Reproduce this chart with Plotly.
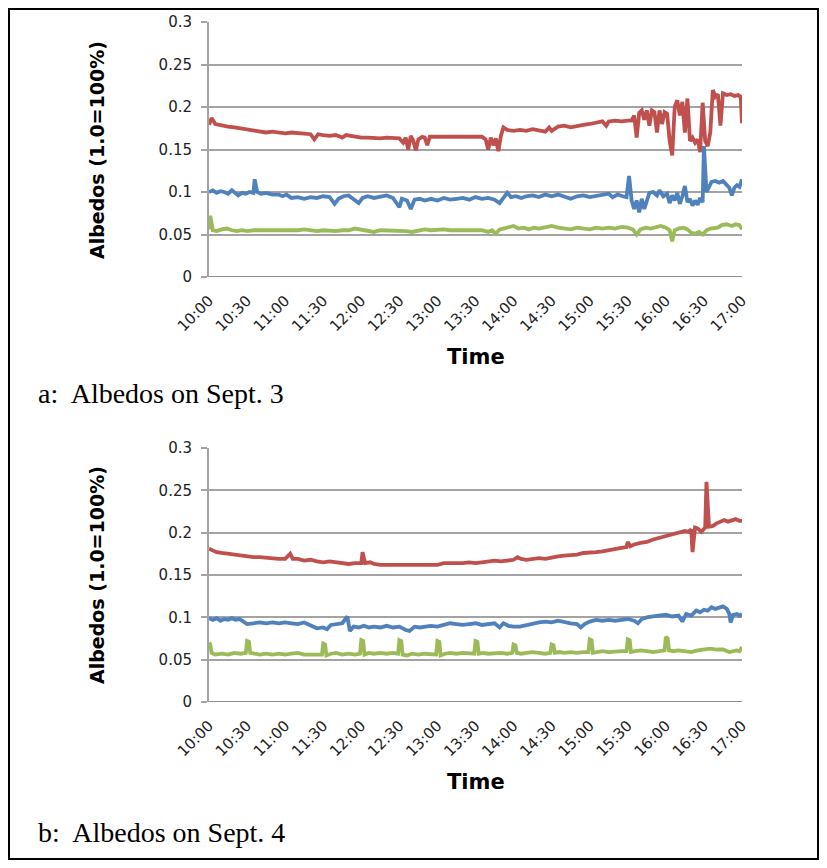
import plotly.graph_objects as go
from plotly.subplots import make_subplots

# ---------------- data ----------------
tick_vals = [600, 630, 660, 690, 720, 750, 780, 810, 840, 870, 900, 930, 960, 990, 1020]
tick_text = ["10:00", "10:30", "11:00", "11:30", "12:00", "12:30", "13:00", "13:30",
             "14:00", "14:30", "15:00", "15:30", "16:00", "16:30", "17:00"]
y_tick_vals = [0, 0.05, 0.1, 0.15, 0.2, 0.25, 0.3]
y_tick_text = ["0", "0.05", "0.1", "0.15", "0.2", "0.25", "0.3"]

# Sept. 3 (minutes since midnight)
red_a_t = [600, 602, 605, 610, 615, 620, 625, 630, 635, 640, 645, 650, 655, 660, 665, 670, 675, 680, 683, 686,
           690, 695, 700, 705, 708, 712, 716, 720, 725, 730, 735, 740, 745, 750, 753, 755, 757, 759, 761, 763,
           765, 768, 770, 772, 774, 778, 785, 790, 795, 800, 805, 810, 815, 818, 820, 822, 824, 826, 828, 830,
           832, 835, 840, 845, 850, 855, 860, 865, 868, 870, 875, 880, 885, 890, 895, 900, 905, 910, 913, 915,
           920, 925, 930, 933, 935, 937, 939, 941, 943, 945, 947, 949, 951, 953, 955, 957, 959, 961, 963, 965,
           967, 969, 971, 973, 975, 977, 979, 981, 983, 985, 987, 989, 991, 993, 995, 997, 999, 1001, 1003, 1005,
           1008, 1011, 1014, 1017, 1019, 1020]
red_a_v = [0.179, 0.187, 0.180, 0.178, 0.177, 0.176, 0.175, 0.174, 0.173, 0.172, 0.170, 0.171, 0.170, 0.169, 0.170, 0.169, 0.168, 0.168, 0.162, 0.168,
           0.167, 0.166, 0.167, 0.164, 0.167, 0.166, 0.165, 0.164, 0.164, 0.163, 0.163, 0.164, 0.163, 0.163, 0.158, 0.164, 0.150, 0.166, 0.160, 0.149,
           0.162, 0.165, 0.164, 0.155, 0.165, 0.165, 0.166, 0.165, 0.166, 0.165, 0.166, 0.166, 0.165, 0.162, 0.150, 0.164, 0.155, 0.163, 0.148, 0.166,
           0.176, 0.173, 0.172, 0.173, 0.172, 0.174, 0.172, 0.171, 0.176, 0.172, 0.177, 0.178, 0.176, 0.178, 0.179, 0.180, 0.181, 0.183, 0.178, 0.183,
           0.184, 0.183, 0.184, 0.184, 0.190, 0.164, 0.193, 0.196, 0.185, 0.196, 0.178, 0.196, 0.194, 0.170, 0.196, 0.180, 0.194, 0.192, 0.160, 0.143,
           0.200, 0.208, 0.190, 0.206, 0.170, 0.210, 0.160, 0.164, 0.158, 0.162, 0.147, 0.205, 0.160, 0.154, 0.170, 0.220, 0.212, 0.215, 0.178, 0.216,
           0.214, 0.215, 0.213, 0.214, 0.212, 0.181]

blue_a_t = [600, 603, 606, 609, 612, 615, 618, 620, 623, 626, 629, 632, 635, 636, 638, 641, 645, 650, 655, 658,
            661, 665, 670, 675, 680, 685, 690, 695, 699, 702, 706, 710, 714, 718, 721, 725, 730, 735, 740, 745,
            750, 752, 756, 759, 762, 766, 770, 775, 780, 785, 790, 795, 800, 805, 810, 815, 820, 825, 829, 832,
            835, 838, 842, 846, 850, 855, 860, 865, 870, 875, 880, 885, 890, 895, 900, 905, 910, 915, 918, 922,
            926, 929, 931, 933, 935, 937, 939, 941, 943, 945, 947, 950, 953, 955, 958, 961, 963, 965, 967, 969,
            971, 973, 975, 977, 979, 981, 983, 985, 987, 989, 990, 992, 994, 996, 999, 1002, 1005, 1008, 1010, 1012,
            1014, 1016, 1018, 1020]
blue_a_v = [0.100, 0.102, 0.099, 0.101, 0.100, 0.098, 0.102, 0.100, 0.096, 0.099, 0.098, 0.100, 0.099, 0.115, 0.100, 0.098, 0.099, 0.097, 0.097, 0.095,
            0.097, 0.093, 0.094, 0.092, 0.094, 0.093, 0.095, 0.094, 0.086, 0.092, 0.095, 0.096, 0.092, 0.087, 0.093, 0.095, 0.093, 0.094, 0.096, 0.093,
            0.082, 0.092, 0.090, 0.080, 0.091, 0.092, 0.090, 0.092, 0.090, 0.093, 0.091, 0.092, 0.093, 0.091, 0.094, 0.092, 0.093, 0.091, 0.087, 0.093,
            0.099, 0.094, 0.095, 0.093, 0.095, 0.096, 0.094, 0.097, 0.095, 0.097, 0.094, 0.092, 0.095, 0.096, 0.094, 0.095, 0.096, 0.098, 0.094, 0.097,
            0.095, 0.094, 0.119, 0.090, 0.080, 0.090, 0.076, 0.092, 0.080, 0.088, 0.099, 0.100, 0.096, 0.102, 0.095, 0.098, 0.087, 0.096, 0.090, 0.099,
            0.086, 0.095, 0.107, 0.088, 0.092, 0.084, 0.090, 0.085, 0.093, 0.088, 0.154, 0.100, 0.105, 0.112, 0.113, 0.111, 0.113, 0.108, 0.105, 0.096,
            0.105, 0.108, 0.106, 0.115]

green_a_t = [600, 601, 603, 606, 610, 614, 618, 622, 626, 630, 635, 640, 645, 650, 655, 660, 665, 670, 675, 680,
             685, 690, 695, 700, 705, 710, 715, 720, 725, 730, 735, 740, 745, 750, 755, 760, 765, 770, 775, 780,
             785, 790, 795, 800, 805, 810, 815, 820, 823, 826, 829, 832, 836, 840, 844, 848, 852, 856, 860, 865,
             870, 875, 880, 885, 890, 895, 900, 905, 910, 915, 920, 925, 930, 934, 937, 940, 944, 948, 952, 956,
             960, 963, 965, 967, 970, 974, 977, 980, 983, 986, 989, 992, 995, 998, 1001, 1004, 1008, 1012, 1015, 1018,
             1020]
green_a_v = [0.056, 0.072, 0.055, 0.054, 0.056, 0.057, 0.055, 0.054, 0.055, 0.054, 0.055, 0.055, 0.054, 0.055, 0.054, 0.055, 0.054, 0.055, 0.056, 0.055,
             0.054, 0.055, 0.054, 0.054, 0.055, 0.055, 0.057, 0.056, 0.055, 0.053, 0.055, 0.055, 0.054, 0.055, 0.054, 0.053, 0.055, 0.056, 0.055, 0.056,
             0.056, 0.055, 0.055, 0.056, 0.055, 0.056, 0.055, 0.053, 0.055, 0.051, 0.056, 0.057, 0.058, 0.060, 0.057, 0.058, 0.056, 0.058, 0.057, 0.059,
             0.060, 0.058, 0.057, 0.056, 0.058, 0.057, 0.056, 0.058, 0.057, 0.058, 0.057, 0.059, 0.058, 0.056, 0.050, 0.056, 0.058, 0.057, 0.059, 0.060,
             0.058, 0.055, 0.042, 0.055, 0.057, 0.058, 0.056, 0.052, 0.051, 0.053, 0.050, 0.055, 0.057, 0.058, 0.058, 0.061, 0.062, 0.060, 0.062, 0.061,
             0.056]

# Sept. 4
red_b_t = [600, 603, 606, 610, 615, 620, 625, 630, 635, 640, 645, 650, 655, 660, 664, 666, 670, 675, 680, 685,
           690, 695, 700, 705, 710, 715, 720, 721, 723, 727, 730, 735, 740, 745, 750, 755, 760, 765, 770, 775,
           780, 785, 790, 795, 800, 805, 810, 815, 820, 825, 830, 835, 840, 843, 846, 850, 855, 860, 865, 870,
           875, 880, 885, 890, 895, 900, 905, 910, 915, 920, 925, 929, 930, 932, 935, 940, 945, 950, 955, 960,
           965, 970, 975, 978, 980, 981, 983, 985, 988, 991, 992, 994, 997, 1000, 1003, 1006, 1009, 1012, 1015, 1018,
           1020]
red_b_v = [0.181, 0.179, 0.177, 0.176, 0.175, 0.173, 0.172, 0.172, 0.171, 0.171, 0.170, 0.170, 0.169, 0.169, 0.175, 0.169, 0.169, 0.167, 0.168, 0.166,
           0.165, 0.166, 0.165, 0.164, 0.163, 0.164, 0.164, 0.177, 0.164, 0.165, 0.163, 0.162, 0.162, 0.162, 0.161, 0.162, 0.161, 0.162, 0.161, 0.162,
           0.162, 0.164, 0.164, 0.163, 0.164, 0.165, 0.164, 0.165, 0.166, 0.167, 0.166, 0.167, 0.168, 0.171, 0.169, 0.168, 0.169, 0.170, 0.169, 0.171,
           0.172, 0.173, 0.173, 0.174, 0.176, 0.176, 0.177, 0.178, 0.179, 0.180, 0.182, 0.183, 0.189, 0.184, 0.186, 0.188, 0.189, 0.192, 0.194, 0.196,
           0.198, 0.200, 0.202, 0.201, 0.204, 0.177, 0.206, 0.205, 0.201, 0.206, 0.260, 0.207, 0.208, 0.211, 0.213, 0.215, 0.213, 0.215, 0.216, 0.214,
           0.214]

blue_b_t = [600, 603, 606, 609, 612, 615, 618, 621, 624, 627, 630, 635, 640, 645, 650, 655, 660, 665, 670, 675,
            680, 685, 690, 693, 696, 700, 705, 709, 711, 714, 718, 722, 726, 730, 735, 740, 745, 750, 755, 758,
            762, 766, 770, 775, 780, 785, 790, 795, 800, 805, 810, 815, 820, 825, 829, 832, 836, 840, 845, 850,
            855, 860, 865, 870, 875, 880, 885, 890, 893, 896, 900, 905, 910, 915, 920, 925, 930, 935, 938, 941,
            945, 950, 955, 960, 965, 970, 973, 976, 980, 984, 987, 990, 993, 996, 999, 1002, 1005, 1008, 1010, 1011,
            1013, 1016, 1018, 1020]
blue_b_v = [0.099, 0.097, 0.099, 0.096, 0.098, 0.097, 0.099, 0.097, 0.098, 0.095, 0.092, 0.093, 0.094, 0.093, 0.094, 0.093, 0.094, 0.093, 0.092, 0.094,
            0.091, 0.087, 0.088, 0.086, 0.091, 0.092, 0.093, 0.101, 0.084, 0.089, 0.088, 0.090, 0.088, 0.089, 0.088, 0.090, 0.088, 0.089, 0.085, 0.084,
            0.089, 0.088, 0.089, 0.090, 0.089, 0.091, 0.093, 0.092, 0.091, 0.092, 0.093, 0.091, 0.092, 0.093, 0.088, 0.093, 0.090, 0.089, 0.089, 0.091,
            0.093, 0.094, 0.095, 0.094, 0.096, 0.094, 0.093, 0.092, 0.088, 0.092, 0.095, 0.097, 0.096, 0.097, 0.096, 0.097, 0.098, 0.096, 0.093, 0.098,
            0.100, 0.101, 0.102, 0.103, 0.101, 0.102, 0.095, 0.104, 0.102, 0.108, 0.106, 0.109, 0.108, 0.112, 0.110, 0.111, 0.113, 0.110, 0.104, 0.094,
            0.103, 0.104, 0.102, 0.104]

green_b_t = [600, 601, 602, 605, 610, 615, 620, 625, 629, 630, 631.5, 632.5, 636, 640, 645, 650, 655, 660, 665, 670,
             675, 680, 685, 689, 690, 691.5, 692.5, 696, 700, 705, 710, 715, 719, 720, 721.5, 722.5, 726, 730, 735, 740,
             745, 749, 750, 751.5, 752.5, 756, 760, 765, 770, 775, 779, 780, 781.5, 782.5, 786, 790, 795, 800, 805, 809,
             810, 811.5, 812.5, 816, 820, 825, 830, 835, 839, 840, 841.5, 842.5, 846, 850, 855, 860, 865, 869, 870, 871.5,
             872.5, 876, 880, 885, 890, 895, 899, 900, 901.5, 902.5, 906, 910, 915, 920, 925, 929, 930, 931.5, 932.5, 936,
             940, 945, 950, 955, 959, 960, 961.5, 962.5, 966, 970, 975, 980, 985, 990, 995, 1000, 1005, 1010, 1013, 1016,
             1018, 1020]
green_b_v = [0.070, 0.068, 0.058, 0.056, 0.057, 0.056, 0.058, 0.057, 0.058, 0.072, 0.071, 0.058, 0.057, 0.056, 0.057, 0.056, 0.057, 0.056, 0.057, 0.058,
             0.056, 0.056, 0.055, 0.056, 0.069, 0.068, 0.055, 0.057, 0.058, 0.056, 0.057, 0.056, 0.057, 0.073, 0.072, 0.056, 0.058, 0.057, 0.058, 0.057,
             0.058, 0.057, 0.073, 0.072, 0.056, 0.055, 0.057, 0.056, 0.057, 0.056, 0.056, 0.072, 0.071, 0.055, 0.057, 0.058, 0.057, 0.058, 0.057, 0.057,
             0.072, 0.071, 0.057, 0.058, 0.057, 0.058, 0.058, 0.057, 0.058, 0.068, 0.067, 0.058, 0.057, 0.058, 0.059, 0.058, 0.057, 0.058, 0.068, 0.067,
             0.058, 0.059, 0.058, 0.059, 0.058, 0.059, 0.059, 0.074, 0.073, 0.058, 0.059, 0.060, 0.059, 0.060, 0.060, 0.060, 0.074, 0.073, 0.059, 0.060,
             0.061, 0.060, 0.059, 0.060, 0.061, 0.077, 0.075, 0.061, 0.060, 0.061, 0.060, 0.059, 0.061, 0.062, 0.063, 0.062, 0.062, 0.059, 0.060, 0.061,
             0.060, 0.065]

RED, BLUE, GREEN = "#C0504D", "#4F81BD", "#9BBB59"

# ---------------- figure ----------------
# The page body adds an 8px margin on every side; the figure is sized to fit
# inside it and every reference pixel position is shifted by OFF.
OFF = 8
W, H = 827 - 2 * OFF, 868 - 2 * OFF


def px(x):
    return (x - OFF) / W


def py(y):
    return 1 - (y - OFF) / H


fig = make_subplots(rows=2, cols=1)

series = [
    (1, red_a_t, red_a_v, RED), (1, blue_a_t, blue_a_v, BLUE), (1, green_a_t, green_a_v, GREEN),
    (2, red_b_t, red_b_v, RED), (2, blue_b_t, blue_b_v, BLUE), (2, green_b_t, green_b_v, GREEN),
]
for row, t, v, c in series:
    fig.add_trace(go.Scatter(x=t, y=v, mode="lines", line=dict(color=c, width=3.8),
                             showlegend=False, hoverinfo="skip"), row=row, col=1)

GRID = "#a3a3a3"
x_dom = [px(209), px(742)]
y_doms = [[py(277), py(22)], [py(702), py(448)]]

for i, dom in enumerate(y_doms, start=1):
    xa = "xaxis" if i == 1 else f"xaxis{i}"
    ya = "yaxis" if i == 1 else f"yaxis{i}"
    fig.layout[xa].update(domain=x_dom, range=[600, 1020], tickvals=tick_vals, ticktext=tick_text,
                          tickangle=-45, showgrid=False, zeroline=False, showline=False, ticks="",
                          automargin=False,
                          tickfont=dict(family="DejaVu Sans", size=15, color="#222"),
                          ticklabelstandoff=11)
    fig.layout[ya].update(domain=dom, range=[0, 0.3], tickvals=y_tick_vals, ticktext=y_tick_text,
                          showgrid=True, gridcolor=GRID, gridwidth=1.6, zeroline=False,
                          showline=True, linecolor=GRID, linewidth=2, automargin=False,
                          ticks="outside", ticklen=6, tickcolor=GRID, tickwidth=1.6,
                          tickfont=dict(family="DejaVu Sans", size=15, color="#222"),
                          ticklabelstandoff=6)
    xref = "x" if i == 1 else f"x{i}"
    yref = "y" if i == 1 else f"y{i}"
    # 3D floor bar under the plot
    fig.add_shape(type="rect", xref=f"{xref} domain", yref=yref, x0=0, x1=1,
                  ysizemode="pixel", yanchor=0, y0=-6, y1=1,
                  fillcolor="#909090", line=dict(width=0), layer="above")

# axis titles and captions
for yc_px, time_px, cap_px, cap in [(150, 357, 393, "a:\u00a0 Albedos on Sept. 3"),
                                     (575, 782, 832, "b:\u00a0 Albedos on Sept. 4")]:
    fig.add_annotation(xref="paper", yref="paper", x=px(97), y=py(yc_px),
                       text="<b>Albedos (1.0=100%)</b>", textangle=-90, showarrow=False,
                       font=dict(family="DejaVu Sans", size=19, color="#000"),
                       xanchor="center", yanchor="middle")
    fig.add_annotation(xref="paper", yref="paper", x=px(476), y=py(time_px),
                       text="<b>Time</b>", showarrow=False, font=dict(family="DejaVu Sans", size=21, color="#000"),
                       xanchor="center", yanchor="middle")
    fig.add_annotation(xref="paper", yref="paper", x=px(36), y=py(cap_px),
                       text=cap, showarrow=False,
                       font=dict(family="Liberation Serif", size=28, color="#000"),
                       xanchor="left", yanchor="middle")

# outer frame
fig.add_shape(type="rect", xref="paper", yref="paper", x0=1 / W, x1=1 - 1 / W, y0=1 / H, y1=1 - 1 / H,
              line=dict(color="#000", width=2), fillcolor="rgba(0,0,0,0)", layer="above")

fig.update_layout(width=W, height=H, margin=dict(l=0, r=0, t=0, b=0, autoexpand=False),
                  paper_bgcolor="white", plot_bgcolor="white")

fig.write_html("out.html")
